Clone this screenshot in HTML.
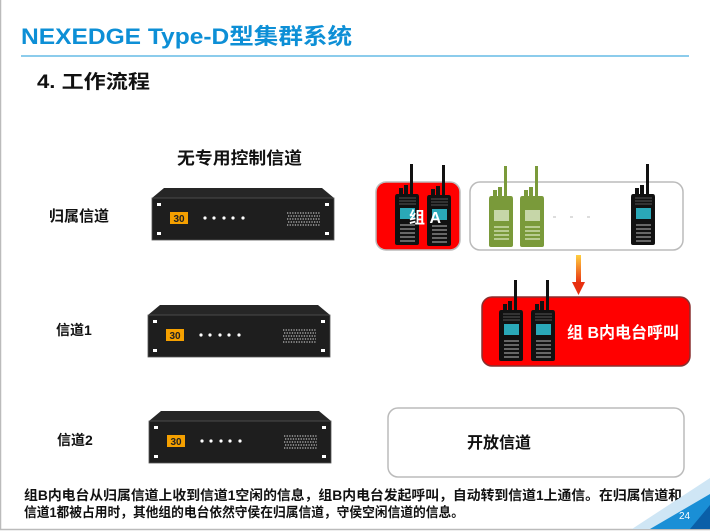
<!DOCTYPE html>
<html><head><meta charset="utf-8"><style>
body{margin:0;width:710px;height:532px;overflow:hidden;background:#fff;font-family:"Liberation Sans","Noto Sans CJK SC",sans-serif;}
</style></head><body>
<svg width="710" height="532" viewBox="0 0 710 532" xmlns="http://www.w3.org/2000/svg" style="position:absolute;left:0;top:0" font-family="Liberation Sans, Noto Sans CJK SC, sans-serif">
<defs>
<g id="rack">
 <polygon points="12,0 170,0 182,10 0,10" fill="#262626"/>
 <rect x="0" y="10" width="182" height="42" fill="#1e1e1e" stroke="#555" stroke-width="0.8"/>
 <rect x="5" y="15" width="4" height="3" fill="#fff"/><rect x="173" y="15" width="4" height="3" fill="#fff"/>
 <rect x="5" y="44" width="4" height="3" fill="#fff"/><rect x="173" y="44" width="4" height="3" fill="#fff"/>
 <rect x="18" y="24" width="18" height="12" fill="#f5a000"/>
 <text x="27" y="34" font-size="10" text-anchor="middle" fill="#222" font-weight="bold">30</text>
 <g fill="#fff"><circle cx="53" cy="30" r="1.6"/><circle cx="62" cy="30" r="1.6"/><circle cx="72" cy="30" r="1.6"/><circle cx="81" cy="30" r="1.6"/><circle cx="91" cy="30" r="1.6"/></g>
 <g stroke="#bbb" stroke-width="1.2" stroke-dasharray="1.3,1.3"><line x1="135" y1="25" x2="168" y2="25"/><line x1="136" y1="28" x2="168" y2="28"/><line x1="135" y1="31" x2="168" y2="31"/><line x1="136" y1="34" x2="168" y2="34"/><line x1="135" y1="37" x2="168" y2="37"/></g>
</g>
<g id="radio">
 <rect x="14" y="0" width="3" height="30" fill="#111"/>
 <rect x="3" y="24" width="4" height="6" fill="#111"/><rect x="8" y="21" width="4" height="9" fill="#111"/>
 <path d="M1,30 h20 q2,0 2,3 v46 q0,2-2,2 h-20 q-2,0-2,-2 v-46 q0,-3 2,-3z" fill="#111"/>
 <g stroke="#555" stroke-width="1"><line x1="3" y1="34" x2="20" y2="34"/><line x1="3" y1="37" x2="20" y2="37"/><line x1="3" y1="40" x2="20" y2="40"/></g>
 <rect x="4" y="44" width="15" height="11" fill="#2aa8b8"/>
 <g fill="#666"><rect x="4" y="60" width="15" height="2"/><rect x="4" y="64" width="15" height="2"/><rect x="4" y="68" width="15" height="2"/><rect x="4" y="72" width="15" height="2"/><rect x="4" y="76" width="15" height="2"/></g>
</g>
<g id="gradio">
 <rect x="14" y="0" width="3" height="30" fill="#7a9a3a"/>
 <rect x="3" y="24" width="4" height="6" fill="#7a9a3a"/><rect x="8" y="21" width="4" height="9" fill="#7a9a3a"/>
 <path d="M1,30 h20 q2,0 2,3 v46 q0,2-2,2 h-20 q-2,0-2,-2 v-46 q0,-3 2,-3z" fill="#7a9a3a"/>
 <rect x="4" y="44" width="15" height="11" fill="#c6d6a8"/>
 <g fill="#b8cc90"><rect x="4" y="60" width="15" height="2"/><rect x="4" y="64" width="15" height="2"/><rect x="4" y="68" width="15" height="2"/><rect x="4" y="72" width="15" height="2"/></g>
</g>
<linearGradient id="ar" x1="0" y1="0" x2="0" y2="1"><stop offset="0" stop-color="#ffd040"/><stop offset="1" stop-color="#e83010"/></linearGradient>
</defs>
<line x1="0.5" y1="0" x2="0.5" y2="530" stroke="#bbb" stroke-width="1.5"/>
<line x1="0" y1="529.5" x2="710" y2="529.5" stroke="#bbb" stroke-width="1.5"/>
<text x="21" y="44" font-size="22" font-weight="bold" fill="#0d8fd6" textLength="331" lengthAdjust="spacingAndGlyphs">NEXEDGE Type-D型集群系统</text>
<line x1="21" y1="56" x2="689" y2="56" stroke="#1a9ad8" stroke-width="1"/>
<text x="37" y="88" font-size="19" font-weight="bold" fill="#111" textLength="113" lengthAdjust="spacingAndGlyphs">4. 工作流程</text>
<text x="177" y="164" font-size="17" font-weight="bold" fill="#111" textLength="125" lengthAdjust="spacingAndGlyphs">无专用控制信道</text>
<text x="49" y="221" font-size="15" font-weight="bold" fill="#111">归属信道</text>
<text x="56" y="335" font-size="14" font-weight="bold" fill="#111">信道1</text>
<text x="57" y="445" font-size="14" font-weight="bold" fill="#111">信道2</text>
<use href="#rack" x="152" y="188"/>
<use href="#rack" x="148" y="305"/>
<use href="#rack" x="149" y="411"/>
<rect x="376" y="182" width="84" height="68" rx="10" fill="#f00" stroke="#bbb" stroke-width="1.5"/>
<rect x="470" y="182" width="213" height="68" rx="10" fill="#fff" stroke="#bbb" stroke-width="1.5"/>
<use href="#radio" x="396" y="164"/>
<use href="#radio" x="428" y="165"/>
<text x="409" y="223" font-size="16" font-weight="bold" fill="#fff">组 A</text>
<use href="#gradio" x="490" y="166"/>
<use href="#gradio" x="521" y="166"/>
<g fill="#ddd"><rect x="553" y="216" width="3" height="2"/><rect x="570" y="216" width="3" height="2"/><rect x="587" y="216" width="3" height="2"/></g>
<use href="#radio" x="632" y="164"/>
<rect x="576" y="255" width="5" height="28" fill="url(#ar)"/>
<polygon points="572,282 585,282 578.5,295" fill="#e83010"/>
<rect x="482" y="297" width="208" height="69" rx="10" fill="#f00" stroke="#8a3030" stroke-width="1.5"/>
<use href="#radio" x="500" y="280"/>
<use href="#radio" x="532" y="280"/>
<text x="567" y="338" font-size="16" font-weight="bold" fill="#fff">组 B内电台呼叫</text>
<rect x="388" y="408" width="296" height="69" rx="10" fill="#fff" stroke="#bbb" stroke-width="1.5"/>
<text x="467" y="448" font-size="16" font-weight="bold" fill="#111" textLength="64" lengthAdjust="spacingAndGlyphs">开放信道</text>
<text x="24" y="500" font-size="13.5" font-weight="bold" fill="#111" textLength="658" lengthAdjust="spacingAndGlyphs">组B内电台从归属信道上收到信道1空闲的信息，组B内电台发起呼叫，自动转到信道1上通信。在归属信道和</text>
<text x="24" y="517" font-size="13.5" font-weight="bold" fill="#111" textLength="440" lengthAdjust="spacingAndGlyphs">信道1都被占用时，其他组的电台依然守侯在归属信道，守侯空闲信道的信息。</text>
<polygon points="632,529 710,478 710,529" fill="#cfe6f5"/>
<polygon points="650,529 710,494 710,529" fill="#1a8fd6"/>
<polygon points="690,529 710,505 710,529" fill="#0a5fa8"/>
<text x="679" y="519" font-size="10" fill="#fff">24</text>
</svg>
</body></html>
